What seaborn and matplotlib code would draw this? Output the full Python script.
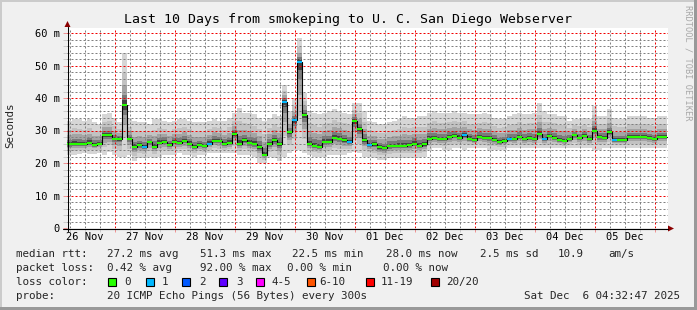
import numpy as np
import matplotlib
matplotlib.use("Agg")
import matplotlib.pyplot as plt
import seaborn as sns
from matplotlib.patches import Rectangle, Polygon
from matplotlib.lines import Line2D

# ---------------- data (2-hour bins, ms) ----------------
median_ms = [
    25.7, 26.0, 25.9, 25.7, 26.3, 25.6, 26.0, 28.6, 28.5, 27.4,
    27.4, 37.8, 27.5, 25.0, 25.5, 25.0, 26.4, 25.0, 26.3, 26.6,
    25.5, 26.5, 26.2, 26.9, 26.0, 25.0, 25.4, 25.1, 26.0, 26.9,
    26.8, 25.8, 26.3, 29.0, 26.0, 27.0, 26.1, 25.8, 24.8, 22.6,
    25.8, 27.0, 25.8, 38.9, 29.4, 33.2, 51.2, 34.9, 26.0, 25.3,
    25.0, 26.5, 26.5, 27.8, 27.4, 27.0, 26.4, 33.0, 30.5, 27.0,
    25.5, 25.7, 24.8, 24.5, 25.2, 25.3, 25.3, 25.3, 25.5, 26.0,
    25.3, 25.7, 27.5, 27.6, 27.3, 27.4, 28.0, 28.3, 27.8, 28.5,
    27.5, 27.0, 28.0, 27.6, 27.6, 27.2, 26.4, 26.8, 27.5, 27.3,
    28.0, 27.4, 27.6, 27.3, 29.0, 27.3, 28.4, 27.6, 27.1, 26.8,
    27.5, 28.6, 27.6, 28.3, 27.4, 30.0, 28.0, 27.8, 29.5, 27.0,
    27.1, 27.1, 28.0, 28.0, 28.0, 28.0, 27.6, 27.4, 28.0, 28.0,
]
low_ms = [
    22.5, 22.5, 22.8, 23.0, 22.8, 22.8, 23.0, 22.5, 23.5, 22.5,
    22.0, 22.0, 22.5, 20.5, 21.5, 21.5, 22.0, 21.5, 22.0, 22.5,
    22.5, 22.5, 23.0, 22.5, 22.5, 22.0, 22.5, 22.5, 23.0, 23.0,
    23.0, 23.0, 23.0, 23.0, 22.5, 22.5, 22.5, 22.0, 20.0, 20.0,
    22.0, 21.5, 20.5, 22.0, 23.0, 24.0, 24.0, 23.0, 22.5, 22.0,
    22.0, 22.0, 22.5, 22.5, 22.5, 22.5, 23.0, 23.5, 23.0, 22.0,
    22.0, 21.5, 21.0, 21.0, 21.5, 21.5, 21.5, 21.5, 21.5, 21.5,
    21.5, 22.0, 24.0, 24.5, 24.5, 24.0, 24.0, 24.5, 24.5, 24.0,
    24.5, 24.5, 24.5, 24.5, 24.0, 24.0, 24.0, 24.0, 24.5, 24.5,
    24.5, 24.5, 24.5, 24.5, 24.5, 24.5, 24.5, 24.5, 24.5, 24.5,
    24.5, 24.5, 24.5, 24.5, 24.5, 24.0, 24.0, 24.5, 24.5, 24.5,
    24.5, 24.5, 24.5, 24.5, 24.5, 24.5, 24.5, 24.5, 24.5, 24.5,
]
high_ms = [
    33.0, 33.5, 33.5, 33.0, 33.5, 32.5, 32.0, 35.0, 35.5, 34.0,
    32.5, 53.8, 33.5, 33.0, 32.5, 32.5, 32.0, 33.5, 33.5, 33.0,
    32.5, 33.0, 33.5, 33.5, 33.0, 32.5, 32.5, 32.5, 33.0, 33.5,
    33.0, 33.0, 34.0, 35.5, 37.0, 35.5, 35.5, 35.0, 34.0, 33.0,
    34.0, 35.0, 34.5, 44.0, 36.0, 40.0, 58.4, 41.5, 36.0, 35.5,
    35.0, 35.5, 36.0, 36.5, 36.0, 35.5, 35.0, 38.5, 38.5, 36.0,
    33.0, 32.5, 32.0, 32.0, 32.5, 33.0, 33.5, 34.5, 34.0, 34.0,
    34.5, 34.5, 35.5, 36.0, 35.5, 35.5, 35.5, 36.0, 35.5, 35.5,
    35.0, 35.0, 35.0, 35.5, 35.0, 34.0, 33.5, 33.5, 34.5, 35.0,
    35.5, 35.0, 35.0, 35.5, 38.5, 36.0, 35.0, 35.0, 34.5, 34.5,
    33.0, 33.5, 33.5, 34.0, 33.5, 37.5, 34.5, 34.5, 36.5, 34.0,
    33.5, 33.5, 34.5, 34.5, 34.5, 34.5, 34.0, 34.0, 34.5, 34.5,
]
lost_pings = [0] * 120
for _i in (15, 28, 43, 45, 46, 56, 60, 79, 88, 95, 109):
    lost_pings[_i] = 1

day_labels = ["26 Nov", "27 Nov", "28 Nov", "29 Nov", "30 Nov",
              "01 Dec", "02 Dec", "03 Dec", "04 Dec", "05 Dec"]
ytick_values = [0, 10, 20, 30, 40, 50, 60]
ytick_labels = ["0", "10 m", "20 m", "30 m", "40 m", "50 m", "60 m"]
loss_labels = ["0", "1", "2", "3", "4-5", "6-10", "11-19", "20/20"]
loss_colors = ["#26ff00", "#00b8ff", "#0059ff", "#5e00ff",
               "#ff00ff", "#ff5500", "#ff0000", "#a10000"]

start_day = 0.2          # days after 26 Nov 00:00
bin_days = 1.0 / 12.0    # 2 hours

# ---------------- figure ----------------
sns.set_theme(style="white")
plt.rcParams["font.family"] = ["DejaVu Sans Mono", "DejaVu Sans"]

W, H = 697, 310
fig = plt.figure(figsize=(W / 100, H / 100), dpi=100)
fig.patch.set_facecolor("#f0f0f0")


def fx(px):
    return px / W


def fy(py):
    return 1 - py / H


AX_L, AX_R, AX_T, AX_B = 67, 668, 28, 228
ax = fig.add_axes([fx(AX_L), fy(AX_B), (AX_R - AX_L) / W, (AX_B - AX_T) / H])
ax.set_facecolor("white")

med = np.array(median_ms)
lo = np.array(low_ms)
hi = np.array(high_ms)
n = len(med)
edges = start_day + np.arange(n + 1) * bin_days


def ext(a):
    return np.append(a, a[-1])


# smoke
fracs = [1.0, 0.62, 0.38, 0.2, 0.09]
greys = ["#d6d6d6", "#c2c2c2", "#a4a4a4", "#7a7a7a", "#444444"]
for f, c in zip(fracs, greys):
    ax.fill_between(edges, ext(med - f * (med - lo)), ext(med + f * (hi - med)),
                    step="post", color=c, lw=0, zorder=1)

# median line
sns.lineplot(x=edges, y=ext(med), drawstyle="steps-post", color="black",
             lw=0.8, ax=ax, zorder=3, estimator=None)
ax.hlines(med, edges[:-1], edges[1:], colors=[loss_colors[k] for k in lost_pings],
          lw=1.5, zorder=4)

ax.set_xlim(start_day, (AX_R - 55) / 60)
ax.set_ylim(0, (AX_B - AX_T) / 3.25)

# grid
ax.set_xticks(np.arange(1, 11))
ax.set_xticks(np.arange(0.25, 10.25, 0.25), minor=True)
ax.set_yticks(ytick_values)
ax.set_yticklabels(ytick_labels)
ax.set_yticks(np.arange(2, 62, 2), minor=True)
mgrid = (0.94, 0.0, 0.0, 0.38)
grid = (0.5, 0.5, 0.5, 0.32)
ax.set_axisbelow(False)
ax.grid(which="major", color=mgrid, ls=(0, (2, 2)), lw=0.72)
ax.grid(which="minor", color=grid, ls=(0, (2, 2)), lw=0.72)
ax.tick_params(axis="x", which="both", labelbottom=False, length=2.9, width=0.72,
               direction="out", bottom=True)
ax.tick_params(axis="x", which="major", color=mgrid)
ax.tick_params(axis="x", which="minor", color=grid)
ax.tick_params(axis="y", which="both", length=2.9, width=0.72, direction="out", left=True)
ax.tick_params(axis="y", which="major", color=mgrid, labelsize=7.5, pad=2.2, labelcolor="black")
ax.tick_params(axis="y", which="minor", color=grid)
for s in ax.spines.values():
    s.set_visible(False)
ax.set_xlabel("")
ax.set_ylabel("")

for i, lab in enumerate(day_labels):
    ax.text(i + 0.5, (AX_B - 237) / (AX_B - AX_T), lab, transform=ax.get_xaxis_transform(),
            ha="center", va="center", fontsize=7.5, color="black", clip_on=False)

# axes lines + arrows
axis_col = "#000000"
arrow_col = "#8b0000"
fig.add_artist(Line2D([fx(63), fx(668)], [fy(228.5), fy(228.5)], color=axis_col, lw=0.8))
fig.add_artist(Line2D([fx(67.5), fx(67.5)], [fy(231), fy(27)], color=axis_col, lw=0.8))
fig.add_artist(Polygon([[fx(668), fy(225.5)], [fx(668), fy(231.5)], [fx(674), fy(228.5)]],
                       closed=True, color=arrow_col, lw=0))
fig.add_artist(Polygon([[fx(64.5), fy(27)], [fx(70.5), fy(27)], [fx(67.5), fy(21)]],
                       closed=True, color=arrow_col, lw=0))

# borders
fig.add_artist(Rectangle((0, fy(2)), 1, 2 / H, transform=fig.transFigure, color="#cbcbcb", lw=0))
fig.add_artist(Rectangle((0, 0), 2 / W, 1, transform=fig.transFigure, color="#cbcbcb", lw=0))
fig.add_artist(Rectangle((0, 0), 1, 3 / H, transform=fig.transFigure, color="#999999", lw=0))
fig.add_artist(Rectangle((fx(W - 3), 0), 3 / W, 1, transform=fig.transFigure, color="#999999", lw=0))

# texts
fig.text(fx(347.5), fy(19), "Last 10 Days from smokeping to U. C. San Diego Webserver",
         ha="center", va="center", fontsize=9.5, color="black")
fig.text(fx(10), fy(125), "Seconds", rotation=90, ha="center", va="center", fontsize=7.8)
fig.text(fx(688), fy(5), "RRDTOOL / TOBI OETIKER", rotation=270, ha="center", va="top",
         fontsize=6.2, color="#a8a8a8")

LF = 7.8
row1 = [(16, "median rtt:"), (107, "27.2 ms avg"), (200, "51.3 ms max"), (292, "22.5 ms min"),
        (386, "28.0 ms now"), (480, "2.5 ms sd"), (558, "10.9"), (608, "am/s")]
row2 = [(16, "packet loss:"), (107, "0.42 % avg"), (200, "92.00 % max"),
        (287, "0.00 % min"), (383, "0.00 % now")]
for xx, t in row1:
    fig.text(fx(xx), fy(254), t, ha="left", va="center", fontsize=LF)
for xx, t in row2:
    fig.text(fx(xx), fy(268), t, ha="left", va="center", fontsize=LF)

fig.text(fx(16), fy(282), "loss color:", ha="left", va="center", fontsize=LF)
box_x = [108, 146, 182, 219, 256, 307, 366, 431]
lab_x = [124, 162, 199, 236, 271, 319, 381, 446]
for bx, lx, lab, col in zip(box_x, lab_x, loss_labels, loss_colors):
    fig.add_artist(Rectangle((fx(bx), fy(286)), 8 / W, 8 / H, transform=fig.transFigure,
                             facecolor=col, edgecolor="black", lw=0.8))
    fig.text(fx(lx), fy(282), lab, ha="left", va="center", fontsize=LF)

fig.text(fx(16), fy(296), "probe:", ha="left", va="center", fontsize=LF)
fig.text(fx(107), fy(296), "20 ICMP Echo Pings (56 Bytes) every 300s", ha="left", va="center", fontsize=LF)
fig.text(fx(680), fy(296), "Sat Dec  6 04:32:47 2025", ha="right", va="center", fontsize=LF)

fig.savefig("out.png", dpi=100, facecolor=fig.get_facecolor())
